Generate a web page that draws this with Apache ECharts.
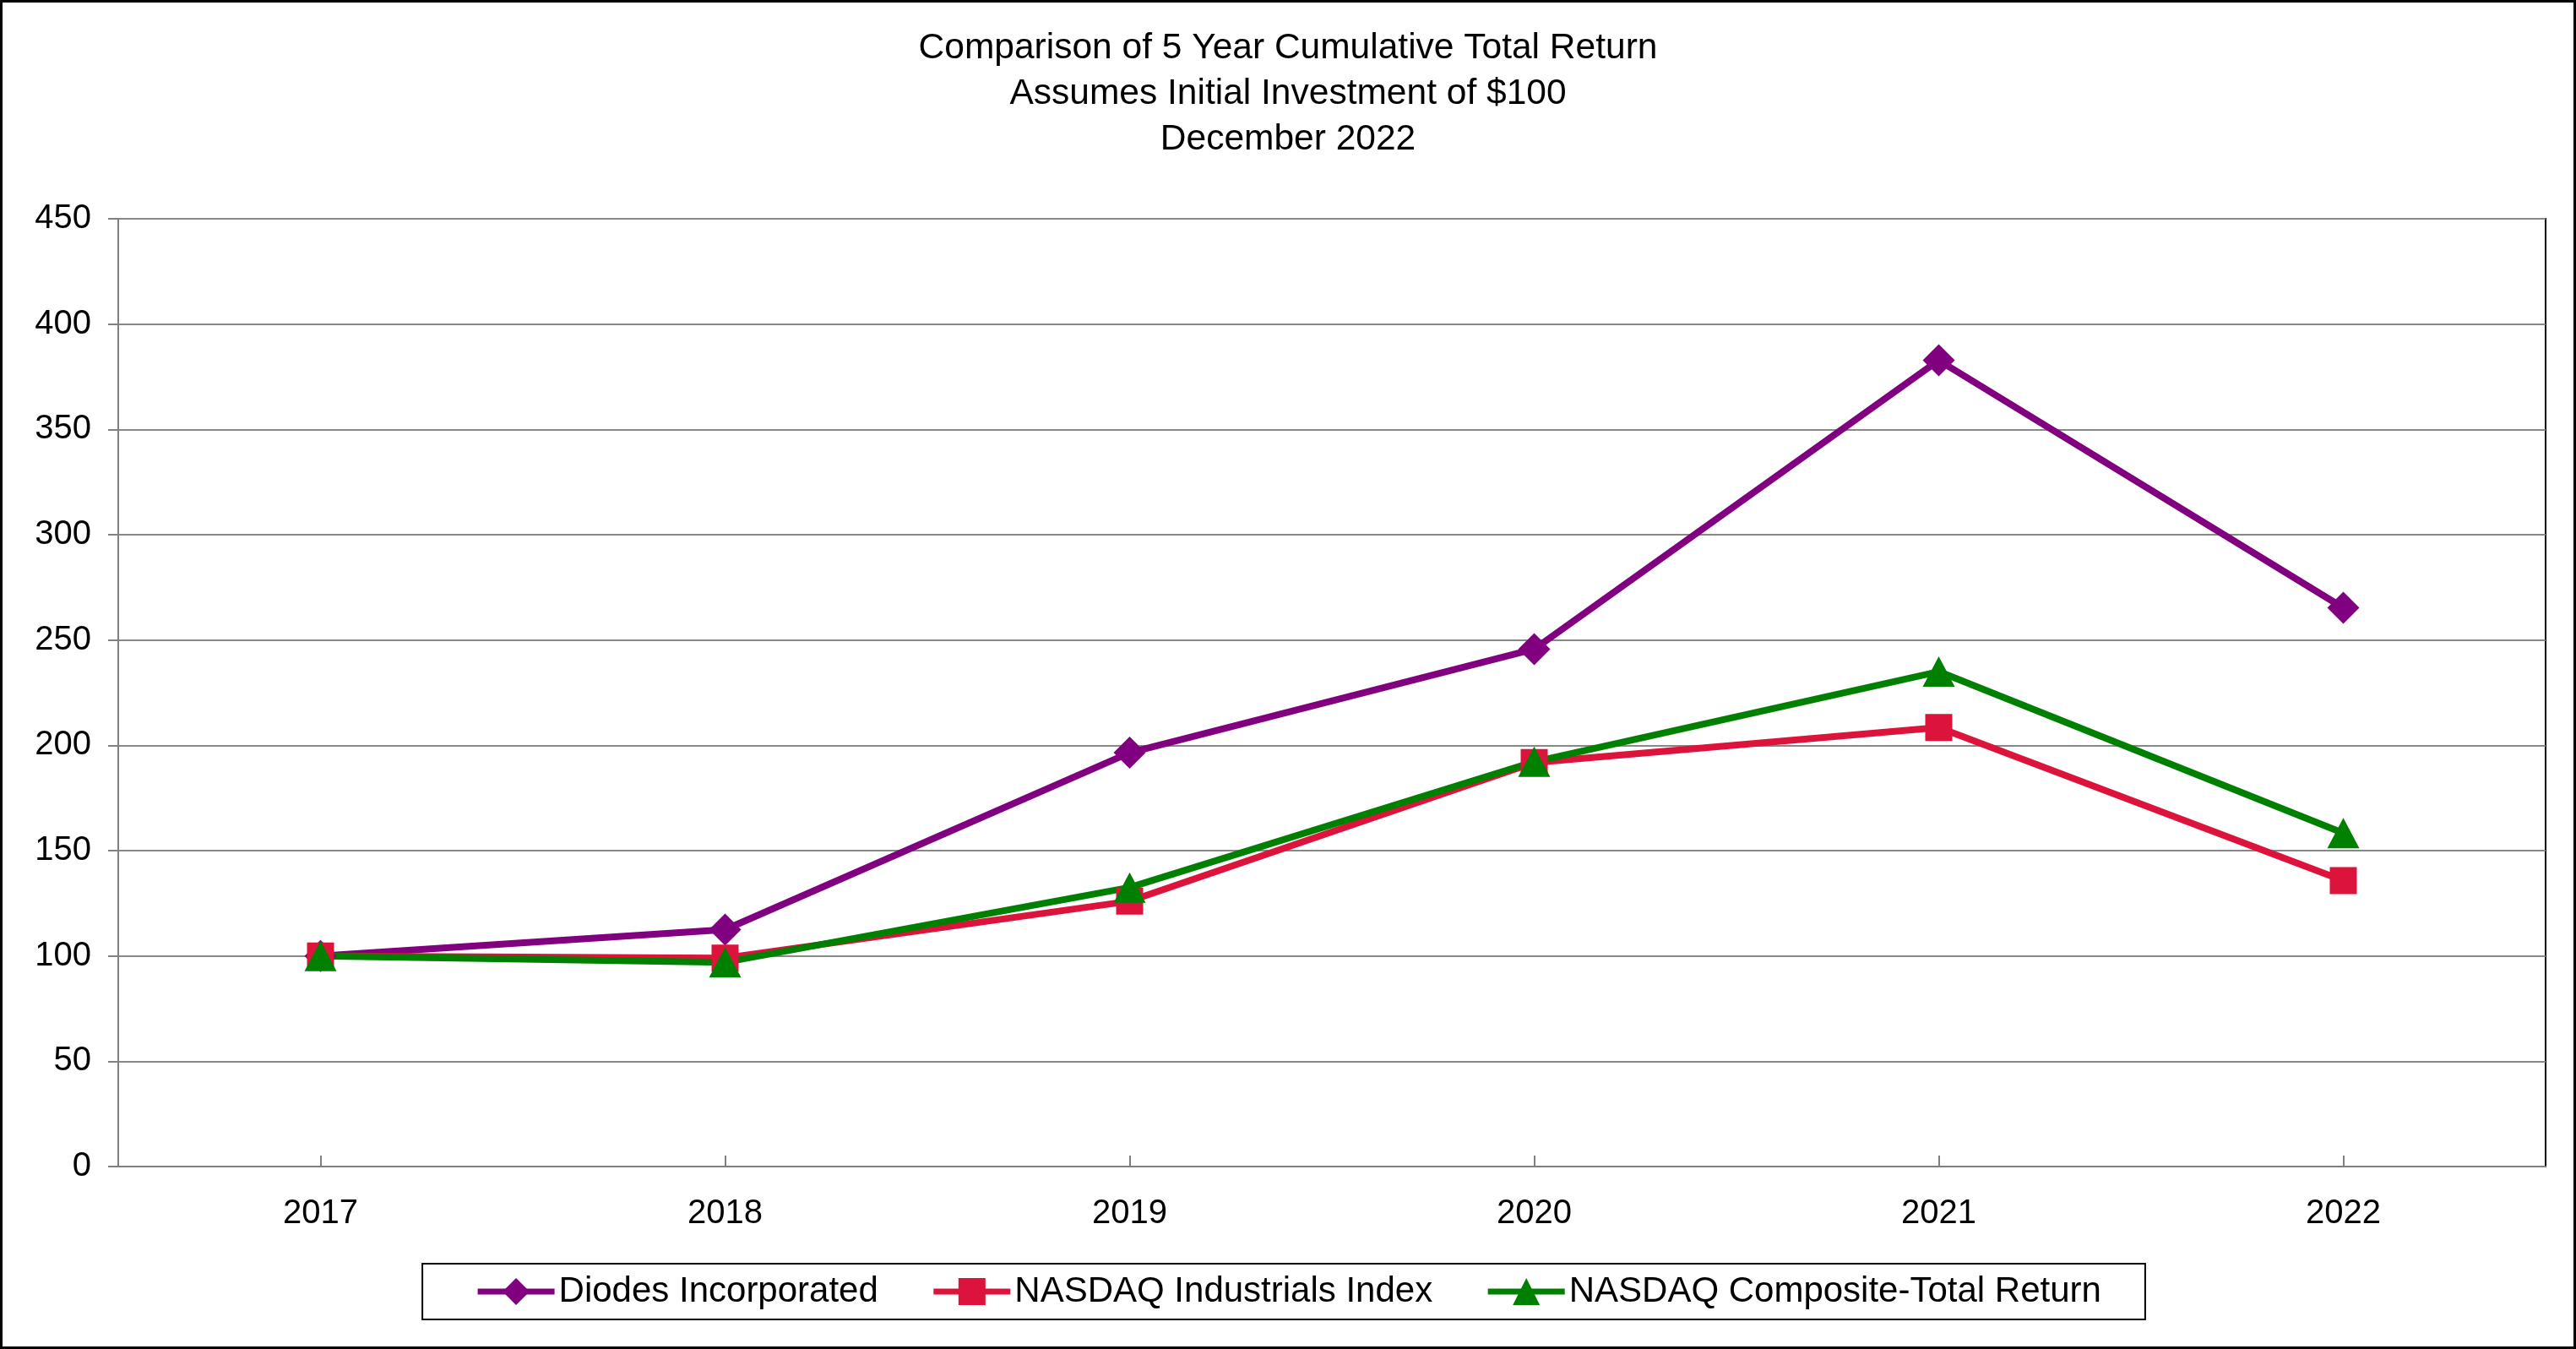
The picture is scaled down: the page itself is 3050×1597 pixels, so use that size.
<!DOCTYPE html>
<html>
<head>
<meta charset="utf-8">
<script src="https://cdn.jsdelivr.net/npm/echarts@6/dist/echarts.min.js"></script>
<style>
html,body{margin:0;padding:0;background:#fff;}
#chart{width:3050px;height:1597px;}
</style>
</head>
<body>
<div id="chart"></div>
<script>
var categories = ['2017', '2018', '2019', '2020', '2021', '2022'];
var diodes = [100, 112.5, 196.5, 245.7, 382.8, 265.3];
var industrials = [100, 99, 126, 191.8, 208.5, 135.8];
var composite = [100, 97, 132.5, 192.2, 235, 158.3];
var seriesNames = ['Diodes Incorporated', 'NASDAQ Industrials Index', 'NASDAQ Composite-Total Return'];
var titleLines = ['Comparison of 5 Year Cumulative Total Return', 'Assumes Initial Investment of $100', 'December 2022'];

var FONT = 'Liberation Sans, Arial, sans-serif';
var chart = echarts.init(document.getElementById('chart'), null, {renderer: 'canvas'});
chart.setOption({
  backgroundColor: '#fff',
  animation: false,
  title: {
    text: titleLines.join('\n'),
    left: 'center',
    top: 25,
    textStyle: {fontFamily: FONT, fontSize: 42.5, fontWeight: 'normal', color: '#000', lineHeight: 54}
  },
  graphic: [{
    type: 'rect',
    shape: {x: 1.5, y: 1.5, width: 3047, height: 1594},
    style: {fill: 'none', stroke: '#000', lineWidth: 3},
    silent: true
  }],
  legend: {
    bottom: 1597 - 1562,
    left: 'center',
    itemWidth: 91,
    itemHeight: 40,
    itemGap: 62,
    padding: [12, 52, 12, 62],
    borderColor: '#000',
    borderWidth: 2,
    lineStyle: {width: 7},
    textStyle: {fontFamily: FONT, fontSize: 42, color: '#000'},
    data: seriesNames
  },
  grid: {
    left: 140, right: 36, top: 259, bottom: 216,
    show: true, borderColor: '#000', borderWidth: 2, backgroundColor: '#fff'
  },
  xAxis: {
    type: 'category',
    data: categories,
    boundaryGap: true,
    axisLine: {lineStyle: {color: '#808080', width: 2}},
    axisTick: {show: true, inside: true, alignWithLabel: true, length: 13, lineStyle: {color: '#808080', width: 2}},
    axisLabel: {fontFamily: FONT, fontSize: 40, color: '#000', margin: 36}
  },
  yAxis: {
    type: 'value',
    min: 0, max: 450, interval: 50,
    axisLine: {show: true, lineStyle: {color: '#808080', width: 2}},
    axisTick: {show: true, length: 12, lineStyle: {color: '#808080', width: 2}},
    axisLabel: {fontFamily: FONT, fontSize: 40, color: '#000', margin: 32},
    splitLine: {show: true, lineStyle: {color: '#888', width: 2}}
  },
  series: [
    {
      name: seriesNames[0], type: 'line', data: diodes,
      symbol: 'diamond', symbolSize: 38,
      lineStyle: {color: '#800080', width: 8},
      itemStyle: {color: '#800080'}
    },
    {
      name: seriesNames[1], type: 'line', data: industrials,
      symbol: 'rect', symbolSize: 32,
      lineStyle: {color: '#DC143C', width: 8},
      itemStyle: {color: '#DC143C'}
    },
    {
      name: seriesNames[2], type: 'line', data: composite,
      symbol: 'triangle', symbolSize: [38, 36],
      lineStyle: {color: '#008000', width: 8},
      itemStyle: {color: '#008000'}
    }
  ]
});
</script>
</body>
</html>
